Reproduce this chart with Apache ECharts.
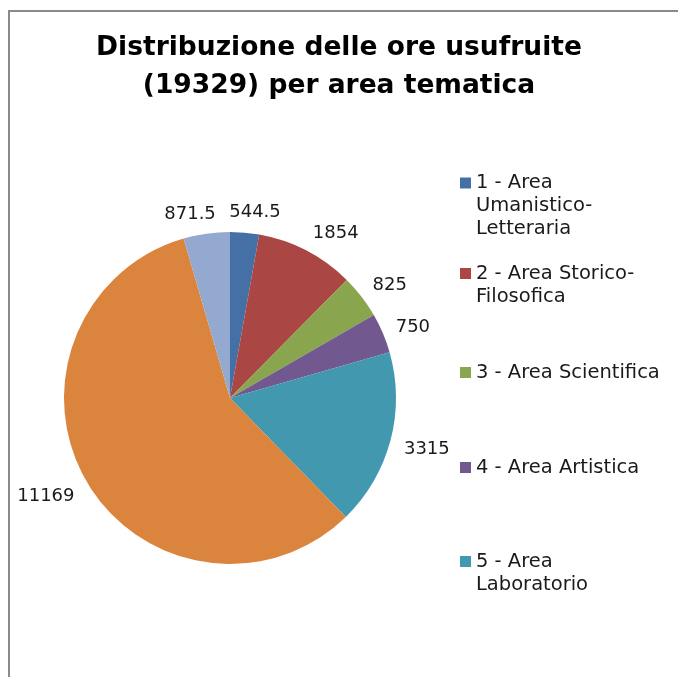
<!DOCTYPE html>
<html>
<head>
<meta charset="utf-8">
<script src="https://cdn.jsdelivr.net/npm/echarts@6/dist/echarts.min.js"></script>
<style>
html,body{margin:0;padding:0;background:#fff;}
#chart{width:678px;height:677px;}
</style>
</head>
<body>
<div id="chart"></div>
<script>
// ---- Data ----
var titleText = 'Distribuzione delle ore usufruite\n(19329) per area tematica';
var categories = [
  '1 - Area Umanistico-Letteraria',
  '2 - Area Storico-Filosofica',
  '3 - Area Scientifica',
  '4 - Area Artistica',
  '5 - Area Laboratorio',
  '6 - Area',
  '7 - Area'
];
var values = [544.5, 1854, 825, 750, 3315, 11169, 871.5];
var legendLabels = [
  '1 - Area\nUmanistico-\nLetteraria',
  '2 - Area Storico-\nFilosofica',
  '3 - Area Scientifica',
  '4 - Area Artistica',
  '5 - Area\nLaboratorio'
];
var colors = ['#4470A6', '#AA4643', '#89A54E', '#71588F', '#4198AF', '#DB843D', '#93A9CF'];

// ---- Layout constants ----
var CX = 230, CY = 398, RADIUS = 166, LABEL_R = 180;
var LEGEND_LEFT = 460, LEGEND_LH = 23;
var legendFirstLine = [182.5, 273, 372, 467, 561];

var total = values.reduce(function (a, b) { return a + b; }, 0);
var midAngles = [];
(function () {
  var acc = 0;
  for (var i = 0; i < values.length; i++) {
    midAngles.push((acc + values[i] / 2) / total * 2 * Math.PI);
    acc += values[i];
  }
})();
function clamp(v) { return Math.max(-1, Math.min(1, v)); }

var chart = echarts.init(document.getElementById('chart'), null, {renderer: 'canvas'});

var legends = legendLabels.map(function (lbl, i) {
  var n = lbl.split('\n').length;
  // pad with empty lines above so the first real line sits level with the icon
  var padded = new Array(n).join('\n') + lbl;
  return {
    show: true,
    orient: 'vertical',
    left: LEGEND_LEFT,
    top: legendFirstLine[i] - 11 - (n - 1) * LEGEND_LH,
    padding: 0,
    itemWidth: 11,
    itemHeight: 11,
    icon: 'rect',
    selectedMode: false,
    data: [categories[i]],
    formatter: function () { return padded; },
    textStyle: {
      fontFamily: 'DejaVu Sans',
      fontSize: 19.5,
      lineHeight: LEGEND_LH,
      color: '#1a1a1a'
    }
  };
});

chart.setOption({
  backgroundColor: '#ffffff',
  animation: false,
  color: colors,
  title: {
    text: titleText,
    left: 'center',
    top: 29,
    padding: 0,
    textStyle: {
      fontFamily: 'DejaVu Sans',
      fontWeight: 'bold',
      fontSize: 26.5,
      lineHeight: 38,
      color: '#000000'
    }
  },
  legend: legends,
  graphic: [{
    type: 'rect',
    shape: {x: 9, y: 11, width: 800, height: 800},
    style: {fill: 'none', stroke: '#8a8a8a', lineWidth: 2},
    silent: true,
    z: -1
  }],
  series: [{
    type: 'pie',
    center: [CX, CY],
    radius: RADIUS,
    startAngle: 90,
    clockwise: true,
    avoidLabelOverlap: false,
    itemStyle: {borderWidth: 0},
    label: {
      show: true,
      position: 'outside',
      formatter: function (p) { return String(p.value); },
      fontFamily: 'DejaVu Sans',
      fontSize: 18,
      color: '#1a1a1a'
    },
    labelLine: {show: false},
    labelLayout: function (p) {
      var a = midAngles[p.dataIndex];
      var s = Math.sin(a), c = Math.cos(a);
      var w = p.labelRect.width, h = p.labelRect.height;
      return {
        x: CX + LABEL_R * s + (w / 2) * clamp(4 * s),
        y: CY - LABEL_R * c - (h / 2) * c + 3,
        align: 'center',
        verticalAlign: 'middle'
      };
    },
    data: categories.map(function (name, i) {
      return {name: name, value: values[i]};
    })
  }]
});
</script>
</body>
</html>
